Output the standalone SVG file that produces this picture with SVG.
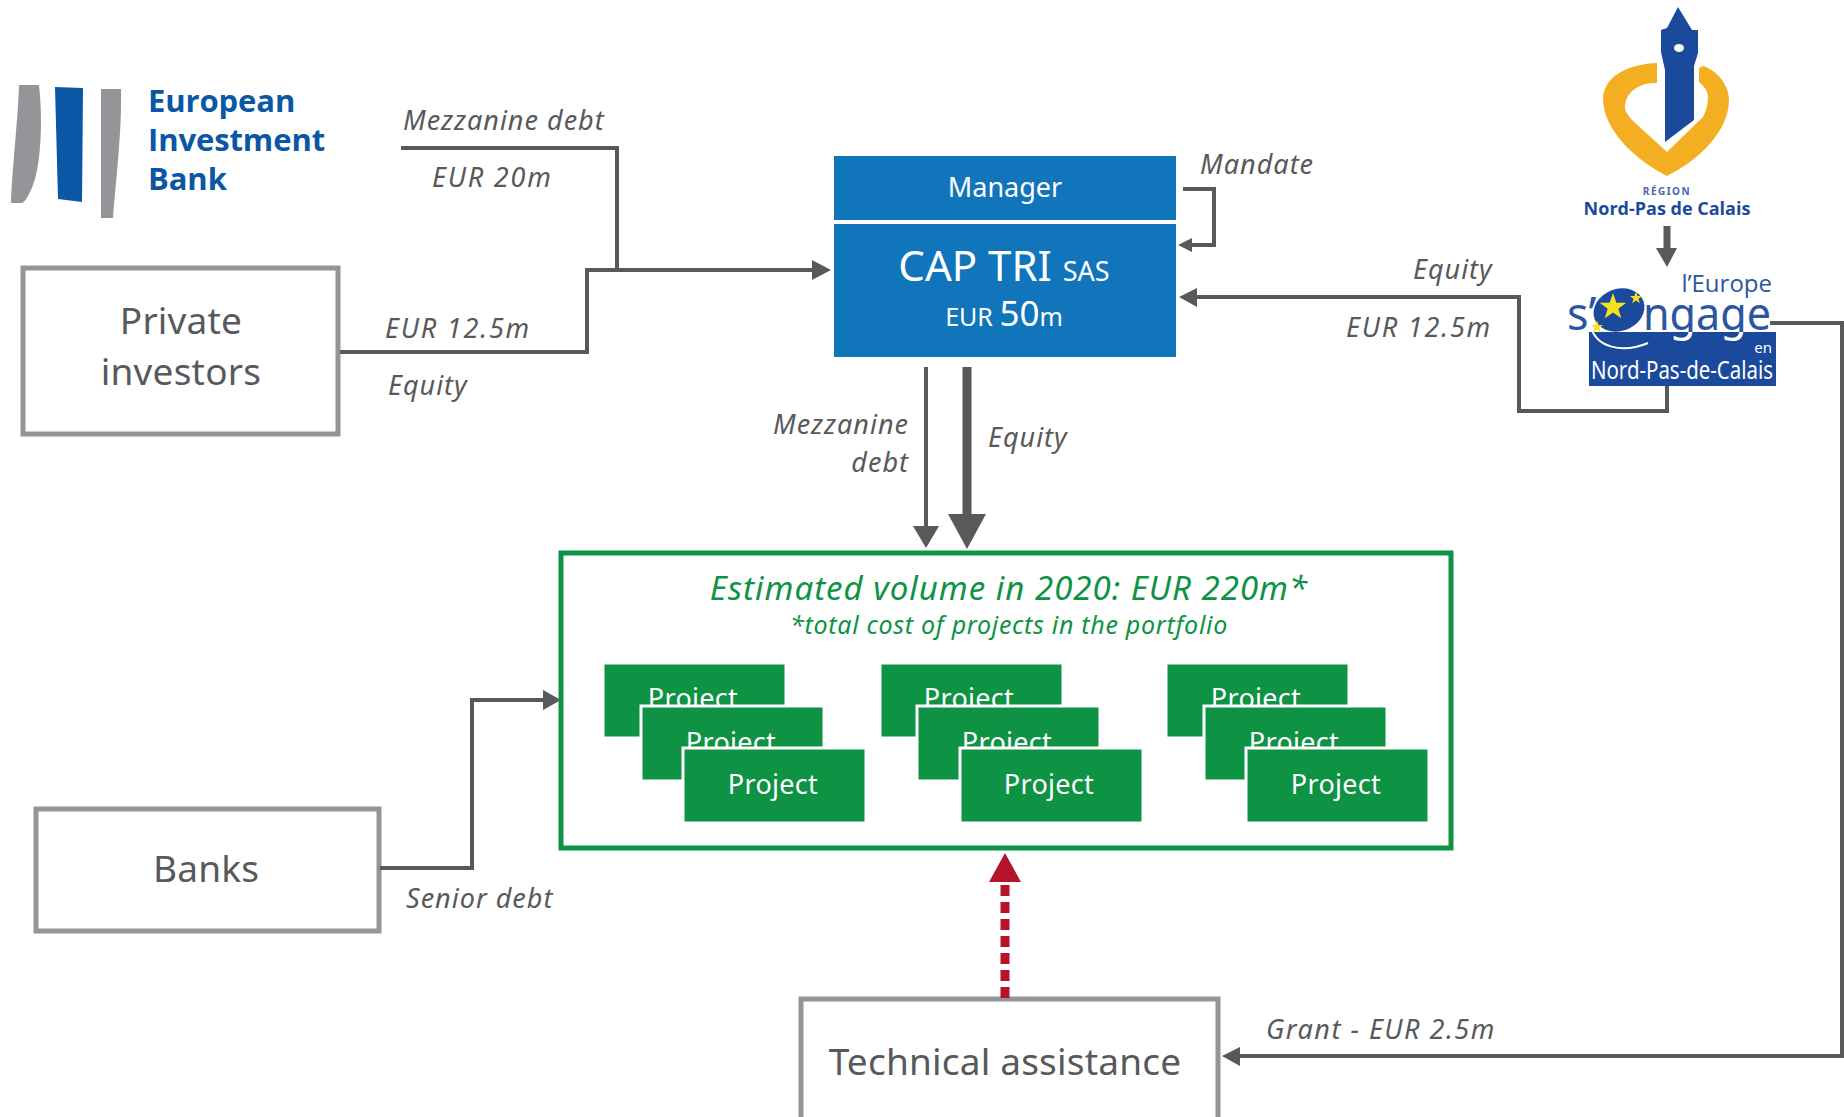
<svg xmlns="http://www.w3.org/2000/svg" width="1844" height="1117" viewBox="0 0 1844 1117">
<style>
text{font-family:"Noto Sans","Open Sans","DejaVu Sans",sans-serif}
.box{fill:#fff;stroke:#939598;stroke-width:5}
.lbl{font-size:37px;fill:#58595b;text-anchor:middle;letter-spacing:.2px}
.it{font-size:27px;font-style:italic;fill:#58595b;letter-spacing:1px}
.wd{letter-spacing:1.8px}
.blue{fill:#1175bc}
.wt{fill:#fff;text-anchor:middle}
.prj{fill:#0e9345;stroke:#fff;stroke-width:3}
.ptx{font-size:27px;fill:#fff;text-anchor:middle;letter-spacing:.3px}
.ln{fill:none;stroke:#58595b;stroke-width:4}
.ah{fill:#58595b}
.eib{font-family:"Open Sans","Noto Sans",sans-serif;font-weight:700;font-size:31px;fill:#0a57a5;letter-spacing:-.1px}
.star{fill:#f7e11d}
</style>
<defs>
<linearGradient id="splitfill" gradientUnits="userSpaceOnUse" x1="0" y1="0" x2="0" y2="1117">
<stop offset="0.2972" stop-color="#2a55a3"/><stop offset="0.2972" stop-color="#fff"/>
</linearGradient>
<path id="st" d="M0-10 2.4-3.1H9.5L3.8 1.2 5.9 8.1 0 4-5.9 8.1-3.8 1.2-9.5-3.1H-2.4Z"/>
</defs>
<rect width="1844" height="1117" fill="#fff"/>
<g id="logo-eib">
<path d="M19 85H39C43 120 41 165 33 185C29 195 25 203 21 203H11C12 170 18 120 19 85Z" fill="#939598"/>
<path d="M55 87L83 88L82 202L58 199Z" fill="#0a57a5"/>
<path d="M101 89H121C122 130 116 180 113 218H101Z" fill="#939598"/>
<text class="eib" x="148" y="112">European</text>
<text class="eib" x="148" y="151">Investment</text>
<text class="eib" x="148" y="190">Bank</text>
</g>
<g id="logo-region">
<path d="M1657 63C1630 64 1603 75 1603 100C1604 130 1635 160 1667 176C1700 160 1729 130 1729 100C1729 84 1716 70 1703 66L1699 68V82C1704 86 1708 91 1708 97C1708 105 1706 111 1703 117L1667 152L1632 120C1627 114 1625 111 1625 107C1625 92 1640 82 1657 83Z" fill="#f4ae22"/>
<path d="M1678 7L1692 30H1698V53L1694 66V120L1665 142V70L1661 52V30L1667 28Z" fill="#1b4a9c"/>
<ellipse cx="1679" cy="48" rx="5" ry="4" fill="#fff"/>
<text x="1667" y="195" font-size="10" font-weight="700" fill="#4a64ad" text-anchor="middle" letter-spacing="1.5">RÉGION</text>
<text x="1667" y="215" font-size="18" font-weight="700" fill="#1b4a9c" text-anchor="middle" style="font-family:'Open Sans',sans-serif">Nord-Pas de Calais</text>
</g>
<g id="logo-europe">
<rect x="1589" y="332" width="187" height="54" fill="#1b4a9c"/>
<ellipse cx="1619" cy="310" rx="26" ry="21" transform="rotate(-20 1619 310)" fill="#1b4a9c"/>
<path d="M1591 327C1596 347 1622 354 1648 343" fill="none" stroke="#fff" stroke-width="2"/>
<use href="#st" class="star" transform="translate(1613 307) scale(1.4)"/>
<use href="#st" class="star" transform="translate(1636 298) scale(.65)"/>
<use href="#st" class="star" transform="translate(1597 327) scale(.65)"/>
<text x="1772" y="292" font-size="24" fill="#2a55a3" text-anchor="end" style="font-family:'Open Sans',sans-serif">l’Europe</text>
<text x="1567" y="330" font-size="45" fill="#2a55a3">s’</text>
<text x="1643" y="330" font-size="46" fill="url(#splitfill)" textLength="128" lengthAdjust="spacingAndGlyphs">ngage</text>
<text x="1772" y="353" font-size="15" fill="#fff" text-anchor="end">en</text>
<text x="1682" y="379" font-size="25" fill="#fff" text-anchor="middle" textLength="182" lengthAdjust="spacingAndGlyphs">Nord-Pas-de-Calais</text>
</g>
<g id="private-investors">
<rect class="box" x="23" y="268" width="315" height="166"/>
<text class="lbl" x="181" y="334">Private</text>
<text class="lbl" x="181" y="385">investors</text>
</g>
<g id="banks">
<rect class="box" x="36" y="809" width="343" height="122"/>
<text class="lbl" x="206" y="882">Banks</text>
</g>
<g id="technical-assistance">
<rect class="box" x="801" y="999" width="417" height="125"/>
<text class="lbl" x="1005" y="1075">Technical assistance</text>
</g>
<g id="manager">
<rect class="blue" x="834" y="156" width="342" height="64"/>
<text class="wt" x="1005" y="197" font-size="27">Manager</text>
</g>
<g id="cap-tri">
<rect class="blue" x="834" y="224" width="342" height="133"/>
<text class="wt" x="1004" y="281" font-size="42">CAP TRI <tspan font-size="27">SAS</tspan></text>
<text class="wt" x="1004" y="326" font-size="25">EUR <tspan font-size="35">50</tspan>m</text>
</g>
<g id="portfolio">
<rect x="561" y="553" width="890" height="295" fill="#fff" stroke="#0e9345" stroke-width="5"/>
<text x="1009" y="600" font-size="33" font-style="italic" fill="#0e9345" text-anchor="middle" letter-spacing="1">Estimated volume in 2020: EUR 220m*</text>
<text x="1009" y="634" font-size="25" font-style="italic" fill="#0e9345" text-anchor="middle" letter-spacing=".7">*total cost of projects in the portfolio</text>
</g>
<g id="projects-1">
<rect class="prj" x="603" y="663" width="183" height="75"/><text class="ptx" x="693" y="708">Project</text>
<rect class="prj" x="641" y="706" width="183" height="75"/><text class="ptx" x="731" y="752">Project</text>
<rect class="prj" x="683" y="748" width="183" height="75"/><text class="ptx" x="773" y="794">Project</text>
</g>
<g id="projects-2">
<rect class="prj" x="880" y="663" width="183" height="75"/><text class="ptx" x="969" y="708">Project</text>
<rect class="prj" x="917" y="706" width="183" height="75"/><text class="ptx" x="1007" y="752">Project</text>
<rect class="prj" x="960" y="748" width="183" height="75"/><text class="ptx" x="1049" y="794">Project</text>
</g>
<g id="projects-3">
<rect class="prj" x="1166" y="663" width="183" height="75"/><text class="ptx" x="1256" y="708">Project</text>
<rect class="prj" x="1204" y="706" width="183" height="75"/><text class="ptx" x="1294" y="752">Project</text>
<rect class="prj" x="1246" y="748" width="183" height="75"/><text class="ptx" x="1336" y="794">Project</text>
</g>
<g id="connectors">
<path class="ln" d="M401 148H617V270"/>
<path class="ln" d="M340 352H587V270H815"/><path class="ah" d="M831 270L812 260V280Z"/>
<path class="ln" d="M1183 189H1214V245H1190"/><path class="ah" d="M1178 245L1192 238V252Z"/>
<path class="ln" d="M1667 386V411H1519V297H1192"/><path class="ah" d="M1179 297L1197 288V307Z"/>
<path class="ln" d="M1770 323H1842V1056H1235"/><path class="ah" d="M1222 1056L1240 1047V1066Z"/>
<path class="ln" d="M380 868H472V700H545"/><path class="ah" d="M561 700L543 690V710Z"/>
<path class="ln" d="M926 367V530"/><path class="ah" d="M926 548L913 526H939Z"/>
<path class="ln" style="stroke-width:9" d="M967 367V520"/><path class="ah" d="M967 549L948 514H986Z"/>
<path class="ln" style="stroke-width:7" d="M1667 226V250"/><path class="ah" d="M1667 267L1656 248H1677Z"/>
<path d="M1005 998V882" fill="none" stroke="#b5152b" stroke-width="9" stroke-dasharray="11 6"/><path d="M1005 853L989 882H1021Z" fill="#b5152b"/>
</g>
<g id="labels">
<text class="it" x="403" y="130">Mezzanine debt</text>
<text class="it wd" x="432" y="187">EUR 20m</text>
<text class="it wd" x="385" y="338">EUR 12.5m</text>
<text class="it" x="388" y="395">Equity</text>
<text class="it" x="1200" y="174">Mandate</text>
<text class="it" x="1413" y="279">Equity</text>
<text class="it wd" x="1346" y="337">EUR 12.5m</text>
<text class="it" x="909" y="434" text-anchor="end">Mezzanine</text>
<text class="it" x="909" y="472" text-anchor="end">debt</text>
<text class="it" x="988" y="447">Equity</text>
<text class="it" x="406" y="908">Senior debt</text>
<text class="it wd" x="1266" y="1039" style="letter-spacing:1.5px">Grant - EUR 2.5m</text>
</g>
</svg>
